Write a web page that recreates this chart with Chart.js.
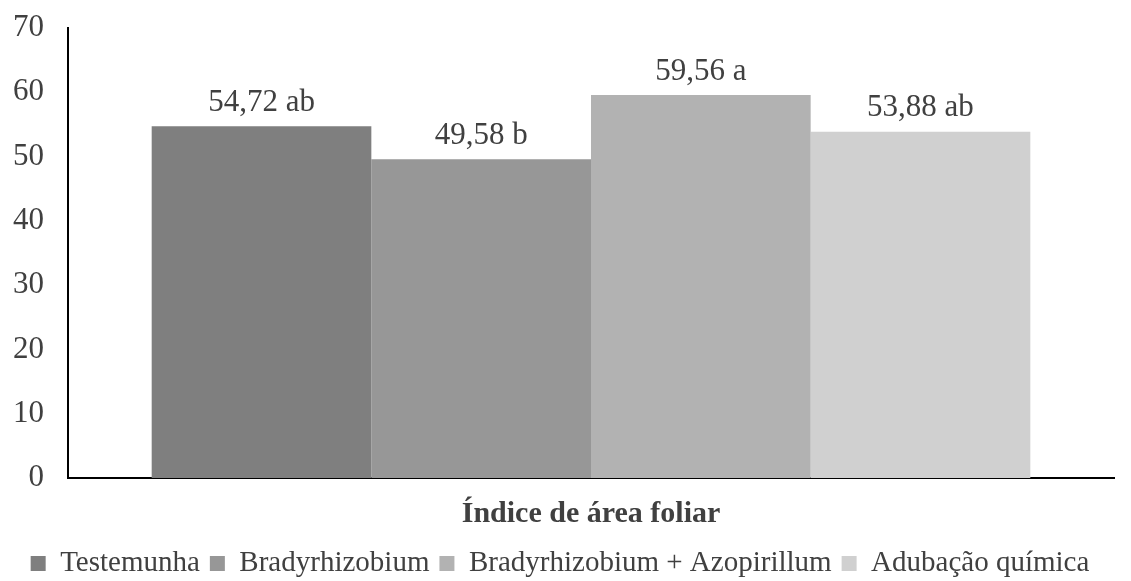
<!DOCTYPE html>
<html>
<head>
<meta charset="utf-8">
<script src="https://cdn.jsdelivr.net/npm/chart.js@4"></script>
<style>
  body { margin: 0; background: #fff; }
  #wrap { width: 1131px; height: 581px; }
</style>
</head>
<body>
<div id="wrap"><canvas id="chart1"></canvas></div>
<script>
let categorias = ['Índice de área foliar']
let tratamentos = ['Testemunha', 'Bradyrhizobium', 'Bradyrhizobium + Azopirillum', 'Adubação química']
let valores = [54.72, 49.58, 59.56, 53.88]
let rotulos = ['54,72 ab', '49,58 b', '59,56 a', '53,88 ab']
let cores = ['#7f7f7f', '#979797', '#b2b2b2', '#d0d0d0']

const fonte = 'Liberation Serif, Times New Roman, serif'
const corTexto = '#404040'

// escreve o valor em cima de cada barra
const rotuloBarras = {
  id: 'rotuloBarras',
  afterDatasetsDraw(chart) {
    const ctx = chart.ctx
    ctx.save()
    ctx.font = '31px ' + fonte
    ctx.fillStyle = corTexto
    ctx.textAlign = 'center'
    ctx.textBaseline = 'bottom'
    chart.data.datasets.forEach((ds, i) => {
      const barra = chart.getDatasetMeta(i).data[0]
      ctx.fillText(rotulos[i], barra.x, barra.y - 8)
    })
    ctx.restore()
  }
}

// desce um pouco a legenda
const ajusteLegenda = {
  id: 'ajusteLegenda',
  afterLayout(chart) {
    chart.legend.top += 7
    chart.legend.bottom += 7
  }
}

const ctx = document.getElementById('chart1').getContext('2d')

new Chart(ctx, {
  type: 'bar',
  data: {
    labels: categorias,
    datasets: tratamentos.map((nome, i) => ({
      label: nome,
      data: [valores[i]],
      backgroundColor: cores[i],
      borderWidth: 0
    }))
  },
  options: {
    responsive: true,
    maintainAspectRatio: false,
    animation: false,
    barPercentage: 1,
    categoryPercentage: 0.84,
    layout: { padding: { left: 6, right: 17, top: 28, bottom: 0 } },
    plugins: {
      legend: {
        position: 'bottom',
        labels: {
          font: { family: fonte, size: 29 },
          color: corTexto,
          boxWidth: 15,
          boxHeight: 15,
          padding: 10
        }
      },
      tooltip: { enabled: false }
    },
    scales: {
      y: {
        min: 0,
        max: 70,
        afterFit(scale) {
          scale.width = 62
          scale.paddingTop = 0
        },
        ticks: {
          stepSize: 10,
          font: { family: fonte, size: 31 },
          color: corTexto,
          padding: 24
        },
        grid: { display: false, drawTicks: false },
        border: { display: true, color: '#000', width: 2 }
      },
      x: {
        ticks: { display: false },
        grid: { display: false, drawTicks: false },
        border: { display: true, color: '#000', width: 2 },
        title: {
          display: true,
          text: categorias[0],
          font: { family: fonte, size: 30, weight: 'bold' },
          color: corTexto,
          padding: { top: 18, bottom: 0 }
        }
      }
    }
  },
  plugins: [rotuloBarras, ajusteLegenda]
})
</script>
</body>
</html>
